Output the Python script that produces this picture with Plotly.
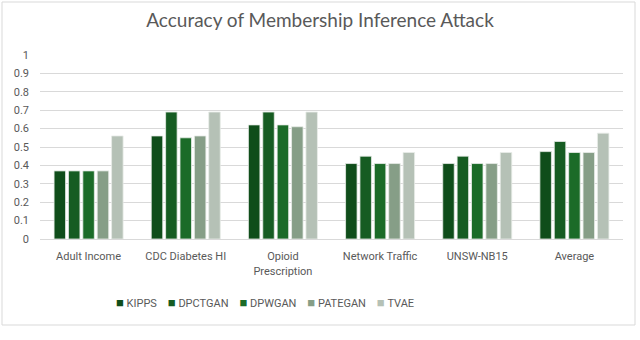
import plotly.graph_objects as go

categories = ["Adult Income", "CDC Diabetes HI", "Opioid<br>Prescription", "Network Traffic", "UNSW-NB15", "Average"]
series_names = ["KIPPS", "DPCTGAN", "DPWGAN", "PATEGAN", "TVAE"]
kipps = [0.37, 0.56, 0.62, 0.41, 0.41, 0.475]
dpctgan = [0.37, 0.69, 0.69, 0.45, 0.45, 0.53]
dpwgan = [0.37, 0.55, 0.62, 0.41, 0.41, 0.47]
pategan = [0.37, 0.56, 0.61, 0.41, 0.41, 0.47]
tvae = [0.56, 0.69, 0.69, 0.47, 0.47, 0.575]
y_ticks = [0, 0.1, 0.2, 0.3, 0.4, 0.5, 0.6, 0.7, 0.8, 0.9, 1]
y_tick_text = ["0", "0.1", "0.2", "0.3", "0.4", "0.5", "0.6", "0.7", "0.8", "0.9", "1"]

colors = ["#0f4d1a", "#165c22", "#1b6b28", "#869e87", "#b5c1b6"]
values = [kipps, dpctgan, dpwgan, pategan, tvae]

fig = go.Figure()
for name, vals, c in zip(series_names, values, colors):
    fig.add_trace(go.Bar(x=categories, y=vals, name=name,
                         marker=dict(color=c, line=dict(color="#e8ece8", width=0.8))))

font_fam = "Roboto, Arial"
L, R, T, B = 40, 17, 55, 101
W, H = 640, 340
pw, ph = W - L - R, H - T - B

def px(x):
    return (x - L) / pw

def py(y):
    return (H - B - y) / ph

NB = "\u00a0"
legend_text = (NB * 4).join(
    f"<span style='color:{c};font-size:13px'>■</span>{NB}{n}" for n, c in zip(series_names, colors)
)

fig.update_layout(
    width=W, height=H,
    margin=dict(l=L, r=R, t=T, b=B, autoexpand=False),
    plot_bgcolor="white", paper_bgcolor="white",
    barmode="group", bargap=0.26, bargroupgap=0.2,
    showlegend=False,
    title=dict(text="Accuracy of Membership Inference Attack", x=0.5, xref="container", xanchor="center",
               y=1 - 20 / H, yanchor="middle",
               font=dict(family="Lato, Roboto, Arial", size=19, color="#595959")),
    font=dict(family=font_fam, size=11, color="#595959"),
    xaxis=dict(showgrid=False, showline=True, linecolor="#d9d9d9", linewidth=1, ticks="",
               automargin=False, ticklabelstandoff=7,
               tickfont=dict(family=font_fam, size=11, color="#595959")),
    yaxis=dict(range=[0, 1.0], tickvals=y_ticks, ticktext=y_tick_text, showgrid=True,
               gridcolor="#d9d9d9", gridwidth=1, zeroline=False, showline=False, automargin=False,
               tickfont=dict(family=font_fam, size=11, color="#595959"), ticklabelstandoff=10),
)
fig.add_annotation(text=legend_text, xref="paper", yref="paper", x=px(265), y=py(302),
                   xanchor="center", yanchor="middle", showarrow=False,
                   font=dict(family=font_fam, size=11, color="#595959"))
fig.add_shape(type="rect", xref="paper", yref="paper", x0=px(2), x1=px(635), y0=py(325), y1=py(2),
              line=dict(color="#d9d9d9", width=1), fillcolor="rgba(0,0,0,0)", layer="below")

fig.write_html("out.html", config={"displayModeBar": False},
               post_script="document.body.style.margin='0px';")
